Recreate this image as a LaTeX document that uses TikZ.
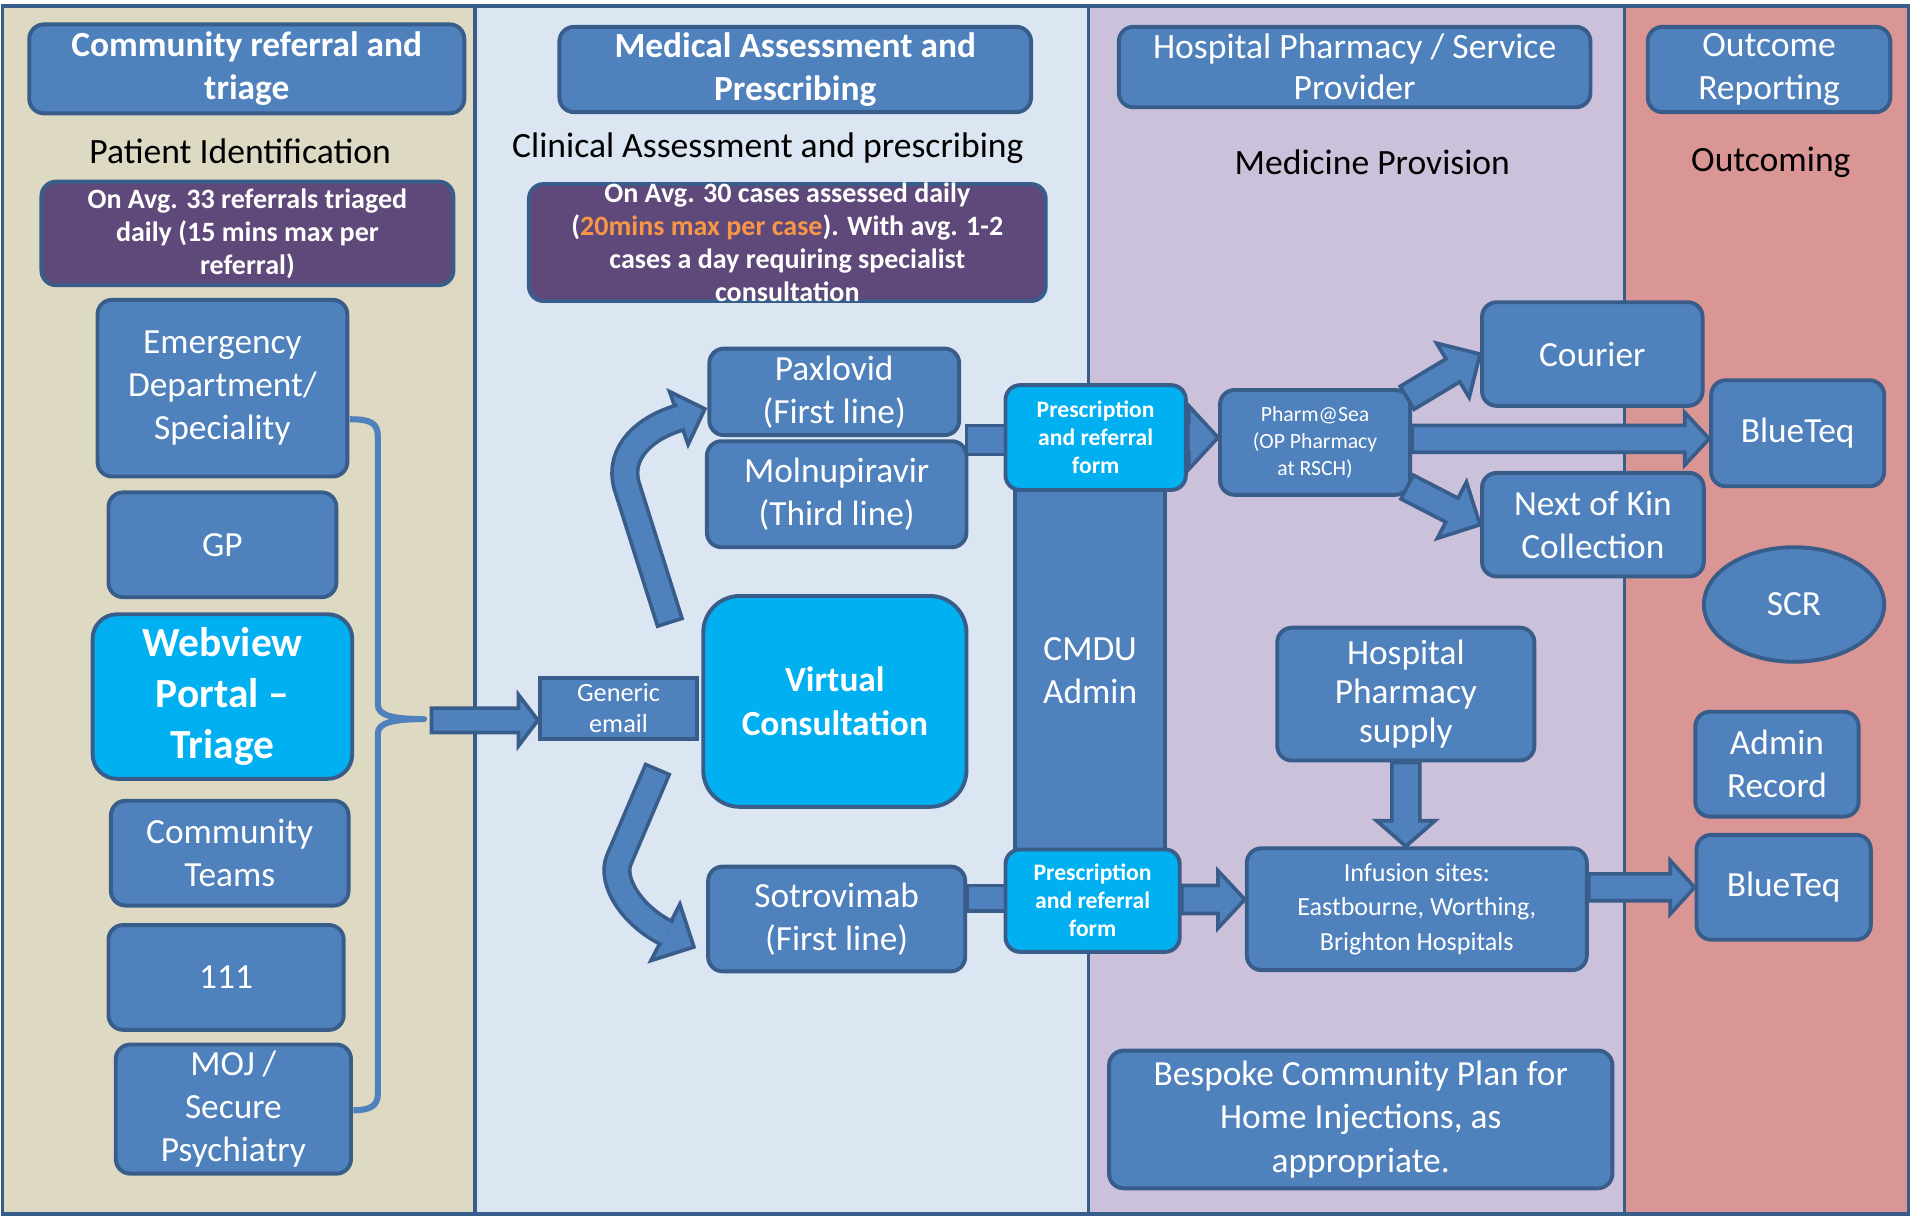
\documentclass[tikz,border=0pt]{standalone}
\usepackage{fontspec}
\setmainfont{Carlito}
\usetikzlibrary{calc,shapes.geometric}

\definecolor{boxblue}{HTML}{4F81BD}
\definecolor{edgeblue}{HTML}{385D8A}
\definecolor{cyanbox}{HTML}{00B0F0}
\definecolor{purplebox}{HTML}{5F497A}
\definecolor{laneA}{HTML}{DDD9C3}
\definecolor{laneB}{HTML}{DCE6F2}
\definecolor{laneC}{HTML}{CCC1DA}
\definecolor{laneD}{HTML}{D99694}
\definecolor{orangetxt}{HTML}{F79646}

\tikzset{
  lane/.style={draw=edgeblue, line width=1.5pt},
  wh/.style n args={2}{minimum width=#1pt, minimum height=#2pt},
  box/.style={draw=edgeblue, fill=boxblue, line width=1.6pt, rounded corners=6pt,
    inner sep=0pt, text=white, align=center, font=\fontsize{14.5}{17.75}\selectfont},
  headbox/.style={box, font=\bfseries\fontsize{14.5}{17.5}\selectfont},
  note/.style={box, fill=purplebox, font=\bfseries\fontsize{11.5}{13.5}\selectfont},
  webbox/.style={box, fill=cyanbox, rounded corners=10pt, font=\bfseries\fontsize{17}{21}\selectfont},
  rxbox/.style={box, fill=cyanbox, rounded corners=6pt, font=\bfseries\fontsize{9.7}{11.5}\selectfont},
  sub/.style={text=black, font=\fontsize{14.6}{17}\selectfont},
  fatarr/.style={draw=edgeblue, fill=boxblue, line width=1.5pt, line join=miter},
  bendout/.style={draw=edgeblue, line width=12pt},
  bendin/.style={draw=boxblue, line width=9pt},
  brace/.style={draw=boxblue, line width=2.5pt, line join=round}
}

% block arrow: from, to, shaft half width, head half width, head length
\newcommand{\fatarrow}[5]{%
  \coordinate (fa-c) at ($(#2)!#5!(#1)$);
  \filldraw[fatarr] ($(#1)!#3!90:(#2)$) -- ($(fa-c)!#3!90:(#2)$) -- ($(fa-c)!#4!90:(#2)$)
    -- (#2) -- ($(fa-c)!#4!-90:(#2)$) -- ($(fa-c)!#3!-90:(#2)$) -- ($(#1)!#3!-90:(#2)$) -- cycle;
}
% plain thick bar: from, to, half width
\newcommand{\fatbar}[3]{%
  \filldraw[fatarr] ($(#1)!#3!90:(#2)$) -- ($(#2)!#3!-90:(#1)$) -- ($(#2)!#3!90:(#1)$)
    -- ($(#1)!#3!-90:(#2)$) -- cycle;
}
% arrow head only: base centre, tip, half width
\newcommand{\headtri}[3]{%
  \filldraw[fatarr] ($(#1)!#3!90:(#2)$) -- (#2) -- ($(#1)!#3!-90:(#2)$) -- cycle;
}

\begin{document}
\begin{tikzpicture}[x=0.5pt,y=-0.5pt]
\useasboundingbox (0,0) rectangle (1568,998);

% swim lanes
\draw[lane,fill=laneA] (2,5) rectangle (390,996);
\draw[lane,fill=laneB] (390,5) rectangle (893,996);
\draw[lane,fill=laneC] (893,5) rectangle (1333,996);
\draw[lane,fill=laneD] (1333,5) rectangle (1566,996);

% lane headers
\node[headbox, wh={178.5}{36.5}] (hcom) at (202.5,56.5) {Community referral and\\triage};
\node[headbox, wh={193.5}{35}] (hmed) at (652.5,57) {Medical Assessment and\\Prescribing};
\node[box, font=\fontsize{14.6}{17}\selectfont, wh={193.5}{33}] (hpha) at (1111.5,55) {Hospital Pharmacy / Service\\Provider};
\node[box, font=\fontsize{14.6}{17.5}\selectfont, wh={99.5}{35}] (hout) at (1451.5,57) {Outcome\\Reporting};

\node[sub] (tpat) at (197,124) {Patient Identification};
\node[sub] (tcli) at (630,122) {Clinical Assessment and prescribing};
\node[sub] (tmed) at (1126,133) {Medicine Provision};
\node[sub] (tout) at (1453,133) {Outcoming};

\node[note, wh={169}{42.5}] (ncom) at (203,191.5) {On Avg. 33 referrals triaged\\daily (15 mins max per\\referral)};
\node[note, wh={212}{48}] (nmed) at (646,199) {};
\node[note, draw=none, fill=none] (nmedtxt) at (nmed.center) {On Avg. 30 cases assessed daily\\(\textcolor{orangetxt}{20mins max per case}). With avg. 1-2\\cases a day requiring specialist\\consultation};

% referral sources
\node[box, wh={102.5}{72.5}] (ed) at (182.5,318.5) {Emergency\\Department/\\Speciality};
\node[box, wh={93.5}{43}] (gp) at (182.5,447) {GP};
\node[webbox, wh={106.5}{67.5}] (web) at (182.5,571.5) {Webview\\Portal –\\Triage};
\node[box, wh={97.5}{43}] (comt) at (188.5,700) {Community\\Teams};
\node[box, wh={96.5}{43}] (n111) at (185.5,802) {111};
\node[box, wh={96.5}{53}] (moj) at (191.5,910) {MOJ /\\Secure\\Psychiatry};

\draw[brace] (287,344) .. controls (304,344) and (310,347) .. (310,358) -- (310,578)
  .. controls (310,587) and (322,590) .. (348,590) .. controls (322,590) and (310,593) .. (310,602)
  -- (310,898) .. controls (310,907) and (304,911) .. (290,911);
\coordinate (bracetip) at (354,591);

% assessment
\node[box, rounded corners=0pt, font=\fontsize{10.8}{13}\selectfont, wh={64.5}{25}] (email) at (507.5,581) {Generic\\email};
\node[box, fill=cyanbox, rounded corners=15pt, font=\bfseries\fontsize{14.5}{18}\selectfont,
  wh={108}{86.5}] (vc) at (685,575.5) {Virtual\\Consultation};
\node[box, wh={102.5}{35.5}] (pax) at (684.5,321.5) {Paxlovid\\(First line)};
\node[box, wh={106.5}{43.5}] (mol) at (686.5,405.5) {Molnupiravir\\(Third line)};
\node[box, wh={105.5}{43}] (sot) at (686.5,754) {Sotrovimab\\(First line)};

\fatarrow{bracetip}{bracetip -| email.west}{5pt}{10.5pt}{8pt}

% bent arrows out of the consultation
\coordinate (upfoot) at (550,512);
\coordinate (upbase) at (557,343);
\coordinate (uptip) at ($(pax.west)+(-2,14)$);
\headtri{upbase}{uptip}{11.5pt}
\draw[bendout] (upfoot) -- (514,398) .. controls (507,372) and (528,351) .. ($(upbase)!1pt!(uptip)$);
\draw[bendin, shorten <=1.5pt] (upfoot) -- (514,398) .. controls (507,372) and (528,351) .. ($(upbase)!1pt!(uptip)$);

\coordinate (dnfoot) at (540,630);
\coordinate (dnbase) at (546,765);
\coordinate (dntip) at ($(sot.west)+(-10,23)$);
\headtri{dnbase}{dntip}{13pt}
\draw[bendout] (dnfoot) -- (508,705) .. controls (500,723) and (519,752) .. ($(dnbase)!1pt!(dntip)$);
\draw[bendin, shorten <=1.5pt] (dnfoot) -- (508,705) .. controls (500,723) and (519,752) .. ($(dnbase)!1pt!(dntip)$);

% admin column and forms
\node[box, rounded corners=0pt, wh={61.5}{152}] (cmdu) at (894.5,550) {CMDU\\Admin};
\coordinate (pm) at (793,361);
\fatbar{pm}{pm -| cmdu.west}{6pt}
\fatbar{sot.east |- 0,737}{cmdu.west |- 0,737}{5.25pt}
\node[rxbox, wh={74}{43}] (rxa) at (899,359) {Prescription\\and referral\\form};
\node[rxbox, wh={71.5}{42}] (rxb) at (896.5,739) {Prescription\\and referral\\form};

% provision
\node[box, font=\fontsize{8.9}{11}\selectfont, wh={78}{43}] (pharm) at (1079,363) {Pharm@Sea\\(OP Pharmacy\\at RSCH)};
\node[box, wh={90.5}{42.5}] (courier) at (1306.5,290.5) {Courier};
\node[box, wh={91}{42.5}] (kin) at (1307,430.5) {Next of Kin\\Collection};
\node[box, font=\fontsize{14.5}{16}\selectfont, wh={105.5}{54.5}] (hps) at (1153.5,569.5) {Hospital\\Pharmacy\\supply};
\node[box, font=\fontsize{10.7}{14}\selectfont, wh={139.5}{50}] (inf) at (1162.5,746) {Infusion sites:\\Eastbourne, Worthing,\\Brighton Hospitals};
\node[box, wh={206.5}{56.5}] (plan) at (1116.5,918.5) {Bespoke Community Plan for\\Home Injections, as\\appropriate.};

% outcomes
\node[box, wh={71}{43.5}] (bta) at (1475,355.5) {BlueTeq};
\node[box, ellipse, wh={74}{47}] (scr) at (1472,496) {SCR};
\node[box, wh={67}{43}] (admin) at (1458,627) {Admin\\Record};
\node[box, wh={71.5}{43}] (btb) at (1463.5,728) {BlueTeq};

% flows
\fatarrow{rxa.east}{rxa.east -| pharm.west}{6pt}{13pt}{12pt}
\fatarrow{$(pharm.north east)+(-4,8)$}{courier.west}{5.5pt}{13pt}{13pt}
\fatarrow{$(pharm.south east)+(-4,-8)$}{kin.west}{5.5pt}{13pt}{13pt}
\fatarrow{pharm.east |- 0,360}{bta.west |- 0,360}{5.5pt}{10.75pt}{10pt}
\fatarrow{hps.south}{hps.south |- inf.north}{5.75pt}{12pt}{10.5pt}
\fatarrow{rxb.east |- 0,738}{inf.west |- 0,738}{5.75pt}{11.75pt}{11pt}
\fatarrow{btb.west -| inf.east}{btb.west}{5.5pt}{11pt}{10pt}
\end{tikzpicture}
\end{document}
